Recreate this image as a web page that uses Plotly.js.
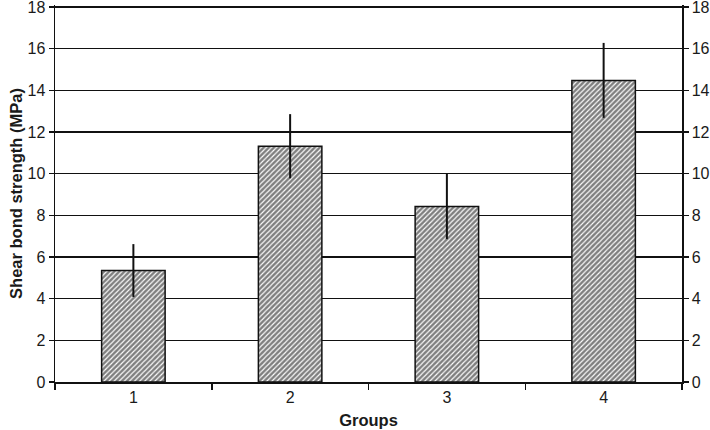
<!DOCTYPE html>
<html><head><meta charset="utf-8">
<script src="https://cdn.plot.ly/plotly-3.0.1.min.js"></script>
<style>html,body{margin:0;padding:0;background:#fff}#chart{width:710px;height:430px}</style>
</head><body><div id="chart"></div>
<script>
const groups = ['1', '2', '3', '4'];
const shearBondStrength = [5.35, 11.32, 8.43, 14.48];
const standardDeviation = [1.27, 1.54, 1.57, 1.8];
const yTickValues = [0, 2, 4, 6, 8, 10, 12, 14, 16, 18];

const fam = 'Liberation Sans, Arial, sans-serif';
function tf() { return {family: fam, size: 16, color: '#1a1a1a'}; }
const data = [{
  type: 'bar', x: groups, y: shearBondStrength,
  width: 0.405,
  marker: {color: '#fff', line: {color: '#111', width: 1.5},
    pattern: {shape: '/', fgcolor: '#000', bgcolor: '#fff', size: 3.6, solidity: 0.68, fillmode: 'overlay'}},
  error_y: {type: 'data', array: standardDeviation, visible: true, color: '#111', thickness: 2, width: 0},
  hoverinfo: 'skip', showlegend: false
}, {
  type: 'scatter', x: groups, y: shearBondStrength, yaxis: 'y2', mode: 'markers',
  marker: {opacity: 0}, hoverinfo: 'skip', showlegend: false
}];
const layout = {
  width: 710, height: 430,
  font: {family: fam, size: 16, color: '#1a1a1a'},
  margin: {l: 55, r: 28, t: 5, b: 48},
  paper_bgcolor: '#fff', plot_bgcolor: '#fff',
  showlegend: false,
  xaxis: {type: 'category', showline: true, linecolor: '#111', linewidth: 1.5,
    ticks: 'outside', tickson: 'boundaries', ticklen: 6, tickcolor: '#111', tickwidth: 1.5,
    tickfont: tf(), showgrid: false, zeroline: false,
    title: {text: 'Groups', font: {family: fam, size: 16.5, color: '#1a1a1a', weight: 'bold'}, standoff: 9}},
  yaxis: {range: [0, 18.1], autorange: false, tickmode: 'array', tickvals: yTickValues, showline: true, linecolor: '#111', linewidth: 1.5,
    ticks: 'outside', ticklen: 5, tickcolor: '#111', tickwidth: 1.5, tickfont: tf(), ticklabeloverflow: 'allow',
    showgrid: true, gridcolor: '#111', gridwidth: 1.2, zeroline: false,
    title: {text: 'Shear bond strength (MPa)', font: {family: fam, size: 16.5, color: '#1a1a1a', weight: 'bold'}, standoff: 0}},
  yaxis2: {range: [0, 18.1], autorange: false, tickmode: 'array', tickvals: yTickValues, overlaying: 'y', side: 'right', showline: true,
    linecolor: '#111', linewidth: 1.5, ticks: 'outside', ticklen: 5, tickcolor: '#111', tickwidth: 1.5,
    tickfont: tf(), ticklabeloverflow: 'allow', showgrid: false, zeroline: false}
};
Plotly.newPlot('chart', data, layout, {staticPlot: true, displayModeBar: false});
</script></body></html>
